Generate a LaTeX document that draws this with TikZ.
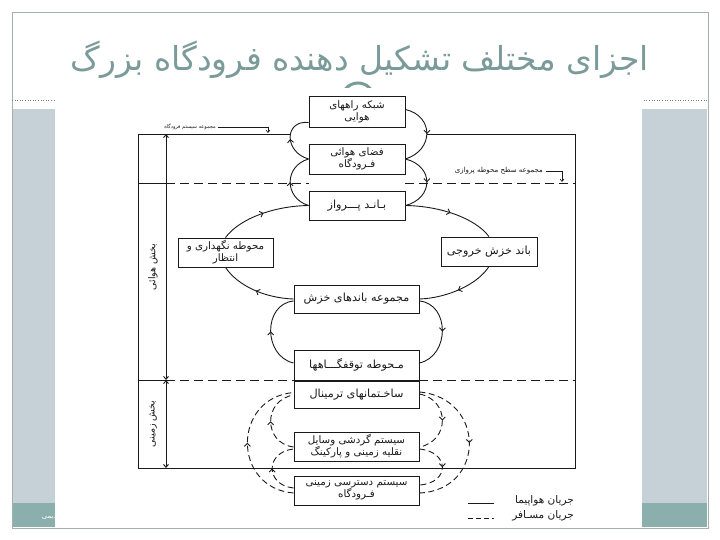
\documentclass[tikz,border=0pt]{standalone}
\usepackage{fontspec}
\newfontfamily\farsi[Script=Arabic]{DejaVu Sans}
\TeXXeTstate=1
\usetikzlibrary{decorations.markings,arrows.meta,calc}
\newcommand\myfa[1]{{\farsi\beginR #1\endR}}
\definecolor{titlec}{HTML}{7B9B9B}
\definecolor{panel}{HTML}{C6D1D7}
\definecolor{panelteal}{HTML}{8BAFAD}
\definecolor{framegray}{HTML}{A7AEAE}
\definecolor{ink}{HTML}{1A1A1A}
\tikzset{
  box/.style={draw=ink, line width=0.9pt, fill=white, align=center, inner sep=0pt,
    font=\farsi\fontsize{11.2}{13.5}\selectfont, text=ink},
  boxtwo/.style={box, font=\farsi\fontsize{10.3}{12}\selectfont},
  flow/.style={draw=ink, line width=0.9pt},
  pflow/.style={draw=ink, line width=0.9pt, dash pattern=on 6pt off 3.5pt},
  midarrow/.style={postaction={decorate}, decoration={markings,
    mark=at position 0.5 with {\arrow{Straight Barb[length=3pt,width=6pt]}}}},
  tinylbl/.style={font=\farsi\fontsize{5}{6}\selectfont, text=ink, inner sep=0pt},
  sidelbl/.style={font=\farsi\fontsize{9.5}{11}\selectfont, text=ink, inner sep=0pt, rotate=90},
  legendlbl/.style={font=\farsi\fontsize{10.5}{12}\selectfont, text=ink, inner sep=0pt},
  barb/.style={arrows={Straight Barb[length=3pt,width=5pt]-Straight Barb[length=3pt,width=5pt]}}
}
\begin{document}
\begin{tikzpicture}[x=1pt,y=-1pt]
\useasboundingbox (0,0) rectangle (720,540);
\fill[white] (0,0) rectangle (720,540);
% slide decoration
\fill[panel] (12,109) rectangle (55,503);
\fill[panelteal] (12,503) rectangle (55,527);
\fill[panel] (642,109) rectangle (707,503);
\fill[panelteal] (642,503) rectangle (707,527);
\draw[framegray, line width=0.8pt] (12,12) rectangle (708,528);
\draw[gray, dotted, line width=0.6pt] (12,100) -- (708,100);
\draw[titlec, line width=3pt] (358,99) circle (16);
\node[font=\farsi\fontsize{7}{8}\selectfont, text=white, anchor=east, inner sep=0pt] (foot) at (57,518) {\myfa{دیمی}};
% scanned picture area
\fill[white] (55,88) rectangle (642,528);
\node[font=\farsi\fontsize{33}{40}\selectfont, text=titlec, inner sep=0pt] (title) at (360,60) {\myfa{اجزای مختلف تشکیل دهنده فرودگاه بزرگ}};

% frame
\coordinate (ftl) at (138,134);
\coordinate (ftr) at (575,134);
\coordinate (fbl) at (138,468);
\coordinate (fbr) at (575,468);
\coordinate (vtop) at (166,134);
\coordinate (vmid) at (166,380);
\coordinate (vbot) at (166,468);
\draw[flow] (290,134) -- (ftl) -- (fbl) -- (fbr) -- (ftr) -- (427,134);
\draw[flow] (138,183) -- (166,183);
\draw[flow] (138,380) -- (166,380);
\draw[flow, dash pattern=on 9pt off 5pt] (166,183) -- (309,183);
\draw[flow, dash pattern=on 9pt off 5pt] (405,183) -- (575,183);
\draw[flow, dash pattern=on 9pt off 5pt] (166,380) -- (294,380);
\draw[flow, dash pattern=on 9pt off 5pt] (419,380) -- (575,380);
\draw[flow, barb] (vtop) -- (vmid);
\draw[flow, barb] (vmid) -- (vbot);
\node[sidelbl] (air) at (153,267) {\myfa{بخش هوائی}};
\node[sidelbl] (ground) at (153,424) {\myfa{بخش زمینی}};

% labels of sets
\node[tinylbl, anchor=east] (lsys) at (216,127) {\myfa{مجموعه سیستم فرودگاه}};
\coordinate (lsysa) at (268,127);
\coordinate (lsysb) at (268,133);
\draw[ink, line width=0.6pt] (lsys.east) ++(2,0) -- (lsysa);
\draw[ink, line width=0.6pt, -{Straight Barb[length=2.5pt,width=4pt]}] (lsysa) -- (lsysb);
\node[font=\farsi\fontsize{7}{8}\selectfont, text=ink, inner sep=0pt, anchor=east] (lair) at (543,171) {\myfa{مجموعه سطح محوطه پروازی}};
\coordinate (laira) at (562,171);
\coordinate (lairb) at (562,182);
\draw[ink, line width=0.6pt] (lair.east) ++(3,0) -- (laira);
\draw[ink, line width=0.6pt, -{Straight Barb[length=2.5pt,width=4pt]}] (laira) -- (lairb);

% boxes
\node[boxtwo, minimum width=96, minimum height=31] (b1) at (357,111.5) {\myfa{شبکه راههای}\\\myfa{هوایی}};
\node[boxtwo, minimum width=96, minimum height=30] (b2) at (357,159) {\myfa{فضای هوائی}\\\myfa{فـرودگاه}};
\node[box, minimum width=96, minimum height=29] (b3) at (357,205.5) {\myfa{بـانـد پـــرواز}};
\node[boxtwo, minimum width=95, minimum height=29] (b4) at (225.5,252.5) {\myfa{محوطه نگهداری و}\\\myfa{انتظار}};
\node[box, minimum width=96, minimum height=29] (b5) at (489,251.5) {\myfa{باند خزش خروجی}};
\node[box, minimum width=125, minimum height=28] (b6) at (356.5,299) {\myfa{مجموعه باندهای خزش}};
\node[box, minimum width=125, minimum height=30] (b7) at (356.5,365) {\myfa{مـحوطه توقفگـــاهها}};
\node[box, minimum width=125, minimum height=27] (b8) at (356.5,394.5) {\myfa{ساخـتمانهای ترمینال}};
\node[boxtwo, minimum width=125, minimum height=29] (b9) at (356.5,446.5) {\myfa{سیستم گردشی وسایل}\\\myfa{نقلیه زمینی و پارکینگ}};
\node[boxtwo, minimum width=125, minimum height=29] (b10) at (356.5,490.5) {\myfa{سیستم دسترسی زمینی}\\\myfa{فـرودگاه}};

% air side flows
\draw[flow, midarrow] (b2.west) .. controls (284,152) and (284,120) .. ($(b1.west)+(0,11)$);
\draw[flow, midarrow] (b3.west) .. controls (284,198) and (284,166) .. (b2.west);
\draw[flow, midarrow] ($(b1.east)+(0,-2)$) .. controls (434,116) and (434,150) .. (b2.east);
\draw[flow, midarrow] (b2.east) .. controls (434,166) and (434,198) .. (b3.east);
\draw[flow, midarrow] (b4.north) .. controls (240,218) and (275,206) .. (b3.west);
\draw[flow, midarrow] (b3.east) .. controls (440,206) and (475,218) .. (b5.north);
\draw[flow, midarrow] (b5.south) .. controls (478,284) and (448,298) .. (b6.east);
\draw[flow, midarrow] (b6.west) .. controls (265,298) and (238,286) .. (b4.south);
\draw[flow, midarrow] ($(b7.west)+(0,-2)$) .. controls (263,356) and (263,304) .. ($(b6.west)+(0,2)$);
\draw[flow, midarrow] ($(b6.east)+(0,2)$) .. controls (450,304) and (450,356) .. ($(b7.east)+(0,-2)$);

% ground side flows
\draw[pflow, midarrow] ($(b9.west)+(0,0.5)$) .. controls (263,443) and (263,400) .. ($(b8.west)+(0,0.5)$);
\draw[pflow, midarrow] ($(b10.west)+(0,-2.5)$) .. controls (265,485) and (265,452) .. ($(b9.west)+(0,2.5)$);
\draw[pflow, midarrow] ($(b10.west)+(0,2.5)$) .. controls (232,488) and (232,398) .. ($(b8.west)+(0,-2)$);
\draw[pflow, midarrow] ($(b8.east)+(0,-0.5)$) .. controls (450,400) and (450,441) .. ($(b9.east)+(0,0.5)$);
\draw[pflow, midarrow] ($(b9.east)+(0,2.5)$) .. controls (450,452) and (450,483) .. ($(b10.east)+(0,-5.5)$);
\draw[pflow, midarrow] ($(b8.east)+(0,-2.5)$) .. controls (486,398) and (486,490) .. ($(b10.east)+(0,2.5)$);

% legend
\coordinate (la1) at (468,503);
\coordinate (la2) at (494,503);
\coordinate (lb1) at (468,518);
\coordinate (lb2) at (494,518);
\draw[flow] (la1) -- (la2);
\draw[pflow, dash pattern=on 5pt off 3pt] (lb1) -- (lb2);
\node[legendlbl, anchor=east] (leg1) at (574,501) {\myfa{جریان هواپیما}};
\node[legendlbl, anchor=east] (leg2) at (574,516) {\myfa{جریان مسـافر}};
\end{tikzpicture}
\end{document}
